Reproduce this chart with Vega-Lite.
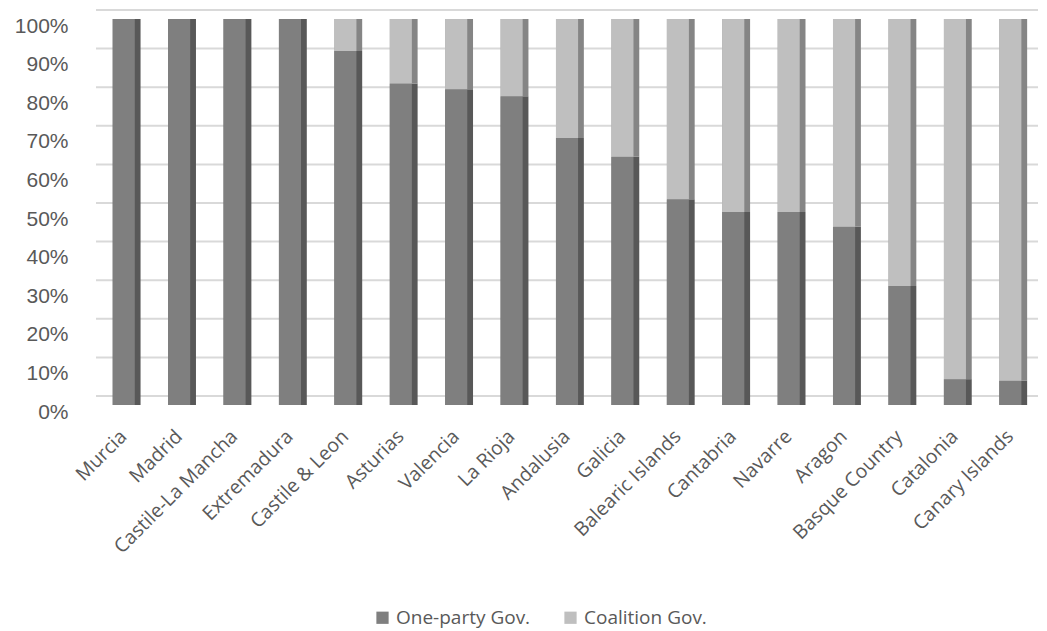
{
  "$schema": "https://vega.github.io/schema/vega-lite/v6.json",
  "width": 942,
  "height": 386,
  "autosize": {"type": "none"},
  "padding": {"left": 96, "top": 19, "right": 9, "bottom": 226},
  "background": "white",
  "config": {"view": {"stroke": null}},
  "datasets": {
    "grid": [{"v": 0}, {"v": 10}, {"v": 20}, {"v": 30}, {"v": 40}, {"v": 50}, {"v": 60}, {"v": 70}, {"v": 80}, {"v": 90}, {"v": 100}],
    "gov": [
      {"region": "Murcia", "gov": "One-party Gov.", "share": 100},
      {"region": "Murcia", "gov": "Coalition Gov.", "share": 0},
      {"region": "Madrid", "gov": "One-party Gov.", "share": 100},
      {"region": "Madrid", "gov": "Coalition Gov.", "share": 0},
      {"region": "Castile-La Mancha", "gov": "One-party Gov.", "share": 100},
      {"region": "Castile-La Mancha", "gov": "Coalition Gov.", "share": 0},
      {"region": "Extremadura", "gov": "One-party Gov.", "share": 100},
      {"region": "Extremadura", "gov": "Coalition Gov.", "share": 0},
      {"region": "Castile & Leon", "gov": "One-party Gov.", "share": 91.7},
      {"region": "Castile & Leon", "gov": "Coalition Gov.", "share": 8.3},
      {"region": "Asturias", "gov": "One-party Gov.", "share": 83.3},
      {"region": "Asturias", "gov": "Coalition Gov.", "share": 16.7},
      {"region": "Valencia", "gov": "One-party Gov.", "share": 81.8},
      {"region": "Valencia", "gov": "Coalition Gov.", "share": 18.2},
      {"region": "La Rioja", "gov": "One-party Gov.", "share": 80},
      {"region": "La Rioja", "gov": "Coalition Gov.", "share": 20},
      {"region": "Andalusia", "gov": "One-party Gov.", "share": 69.2},
      {"region": "Andalusia", "gov": "Coalition Gov.", "share": 30.8},
      {"region": "Galicia", "gov": "One-party Gov.", "share": 64.3},
      {"region": "Galicia", "gov": "Coalition Gov.", "share": 35.7},
      {"region": "Balearic Islands", "gov": "One-party Gov.", "share": 53.3},
      {"region": "Balearic Islands", "gov": "Coalition Gov.", "share": 46.7},
      {"region": "Cantabria", "gov": "One-party Gov.", "share": 50},
      {"region": "Cantabria", "gov": "Coalition Gov.", "share": 50},
      {"region": "Navarre", "gov": "One-party Gov.", "share": 50},
      {"region": "Navarre", "gov": "Coalition Gov.", "share": 50},
      {"region": "Aragon", "gov": "One-party Gov.", "share": 46.2},
      {"region": "Aragon", "gov": "Coalition Gov.", "share": 53.8},
      {"region": "Basque Country", "gov": "One-party Gov.", "share": 30.8},
      {"region": "Basque Country", "gov": "Coalition Gov.", "share": 69.2},
      {"region": "Catalonia", "gov": "One-party Gov.", "share": 6.7},
      {"region": "Catalonia", "gov": "Coalition Gov.", "share": 93.3},
      {"region": "Canary Islands", "gov": "One-party Gov.", "share": 6.3},
      {"region": "Canary Islands", "gov": "Coalition Gov.", "share": 93.7}
    ]
  },
  "layer": [
    {
      "data": {"name": "grid"},
      "mark": {"type": "rule", "color": "#d9d9d9", "strokeWidth": 2, "yOffset": -9},
      "encoding": {
        "y": {
          "field": "v", "type": "quantitative",
          "scale": {"domain": [0, 100], "nice": false},
          "axis": {
            "title": null, "domain": false, "ticks": false, "grid": false,
            "values": [0, 10, 20, 30, 40, 50, 60, 70, 80, 90, 100],
            "labelExpr": "datum.value + '%'",
            "labelFont": "Liberation Sans", "labelFontSize": 21,
            "labelColor": "#595959", "labelPadding": 28, "labelOffset": 7
          }
        }
      }
    },
    {
      "data": {"name": "gov"},
      "encoding": {
        "x": {
          "field": "region", "type": "nominal", "sort": null,
          "scale": {"paddingInner": 0.5, "paddingOuter": 0.25},
          "axis": {
            "title": null, "domain": false, "ticks": false, "grid": false,
            "labelAngle": -45, "labelAlign": "right", "labelBaseline": "middle",
            "labelPadding": 28, "labelFont": "Open Sans", "labelFontSize": 19.5,
            "labelColor": "#595959", "labelOverlap": false
          }
        },
        "y": {
          "field": "share", "type": "quantitative", "stack": "zero",
          "scale": {"domain": [0, 100], "nice": false},
          "axis": {
            "title": null, "domain": false, "ticks": false, "grid": false,
            "values": [0, 10, 20, 30, 40, 50, 60, 70, 80, 90, 100],
            "labelExpr": "datum.value + '%'",
            "labelFont": "Liberation Sans", "labelFontSize": 21,
            "labelColor": "#595959", "labelPadding": 28, "labelOffset": 7
          }
        },
        "order": {"field": "gov", "sort": "descending"}
      },
      "layer": [
        {
          "mark": {"type": "bar", "width": {"band": 1}, "xOffset": 3},
          "encoding": {
            "color": {
              "field": "gov", "type": "nominal",
              "scale": {"domain": ["One-party Gov.", "Coalition Gov."], "range": ["#585858", "#858585"]},
              "legend": null
            }
          }
        },
        {
          "mark": {"type": "bar", "width": {"band": 0.8}, "xOffset": 0},
          "encoding": {
            "color": {
              "field": "gov", "type": "nominal",
              "scale": {"domain": ["One-party Gov.", "Coalition Gov."], "range": ["#7f7f7f", "#bfbfbf"]},
              "legend": {
                "title": null, "orient": "none", "direction": "horizontal",
                "legendX": 277, "legendY": 589,
                "symbolType": "square", "symbolSize": 150,
                "symbolStrokeWidth": 0, "labelFont": "Open Sans", "labelFontSize": 19,
                "labelColor": "#595959", "columnPadding": 30, "labelOffset": 4
              }
            }
          }
        }
      ],
      "resolve": {"scale": {"color": "independent"}}
    }
  ]
}
